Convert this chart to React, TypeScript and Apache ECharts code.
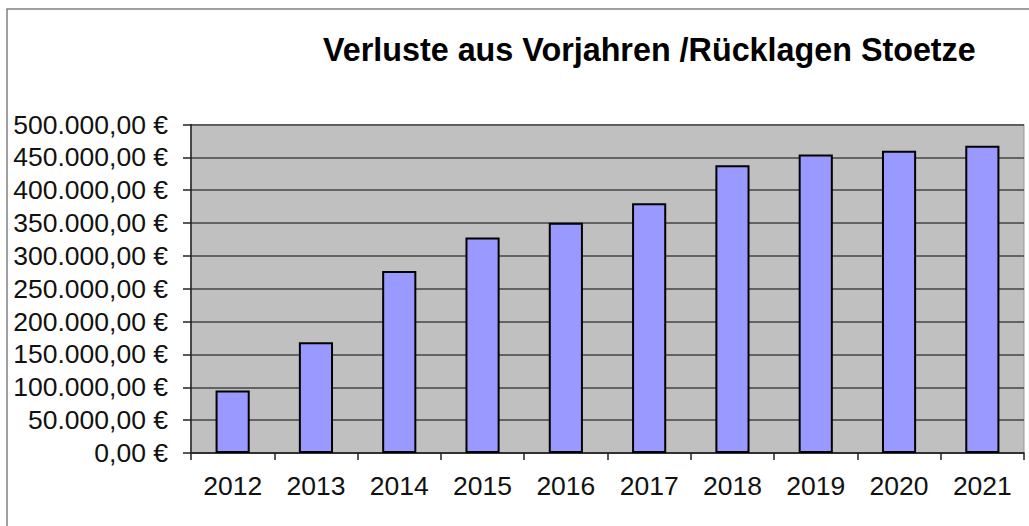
import React, { useEffect, useRef } from "react";
import * as echarts from "echarts";

const titleText = "Verluste aus Vorjahren /Rücklagen Stoetze";
const years = ["2012", "2013", "2014", "2015", "2016", "2017", "2018", "2019", "2020", "2021"];
const values = [95000, 168500, 277000, 328000, 350500, 380000, 438000, 454500, 460000, 467500];

function formatEuro(v: number): string {
  const fixed = v.toFixed(2);
  const [intPart, dec] = fixed.split(".");
  const withDots = intPart.replace(/\B(?=(\d{3})+(?!\d))/g, ".");
  return withDots + "," + dec + " €";
}

export default function App() {
  const ref = useRef<HTMLDivElement>(null);
  useEffect(() => {
    if (!ref.current) return;
    const chart = echarts.init(ref.current, undefined, { renderer: "svg" });
    const font = "'Liberation Sans', Arial, sans-serif";
    chart.setOption({
      animation: false,
      backgroundColor: "#ffffff",
      title: {
        text: titleText,
        left: 318,
        top: 29,
        textStyle: { fontFamily: font, fontSize: 32.3, fontWeight: "bold", color: "#000" },
      },
      graphic: [
        {
          type: "rect",
          shape: { x: 7, y: 9, width: 1200, height: 700 },
          style: { fill: "none", stroke: "#808080", lineWidth: 1.5 },
          silent: true,
        },
      ],
      grid: {
        left: 191,
        top: 124.5,
        right: 5,
        bottom: 73,
        show: true,
        backgroundColor: "#c0c0c0",
        borderColor: "#999999",
        borderWidth: 1,
      },
      xAxis: {
        type: "category",
        data: years,
        boundaryGap: true,
        axisLine: { show: true, lineStyle: { color: "#222", width: 1.5 } },
        axisTick: { show: true, length: 7, lineStyle: { color: "#222", width: 1.5 } },
        axisLabel: { fontFamily: font, fontSize: 26.5, color: "#111", margin: 19 },
      },
      yAxis: {
        type: "value",
        min: 0,
        max: 500000,
        interval: 50000,
        axisLine: { show: true, lineStyle: { color: "#222", width: 1.5 } },
        axisTick: { show: true, length: 8, lineStyle: { color: "#222", width: 1.5 } },
        axisLabel: {
          fontFamily: font,
          fontSize: 26.5,
          color: "#111",
          margin: 23,
          formatter: (v: number) => formatEuro(v),
        },
        splitLine: { show: true, lineStyle: { color: "#444", width: 1.5 } },
      },
      series: [
        {
          type: "bar",
          data: values,
          barWidth: "41%",
          itemStyle: { color: "#9999ff", borderColor: "#000", borderWidth: 2 },
        },
      ],
    });
    return () => chart.dispose();
  }, []);
  return (
    <div
      ref={ref}
      style={{ position: "absolute", left: 0, top: 0, width: 1029, height: 526 }}
    />
  );
}
